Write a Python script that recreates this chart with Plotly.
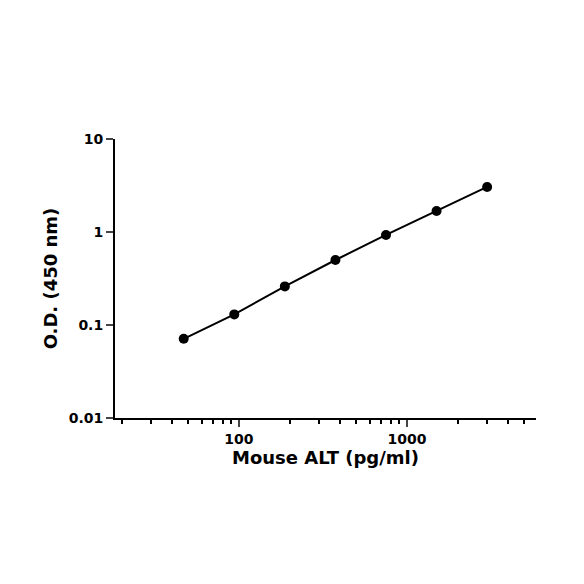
import plotly.graph_objects as go

conc = [46.875, 93.75, 187.5, 375, 750, 1500, 3000]
od = [0.071, 0.13, 0.26, 0.50, 0.93, 1.68, 3.05]

fig = go.Figure(go.Scatter(x=conc, y=od, mode="lines+markers",
    line=dict(color="black", width=2), marker=dict(color="black", size=10)))
font = "DejaVu Sans"
fig.update_layout(width=584, height=584, paper_bgcolor="white", plot_bgcolor="white",
    margin=dict(l=107, r=56, t=131, b=174), showlegend=False,
    font=dict(family=font, color="black"))
fig.update_xaxes(type="log", range=[1.262, 3.768], showgrid=False, zeroline=False, automargin=False,
    showline=True, linecolor="black", linewidth=2, ticks="outside", ticklen=7, tickwidth=2,
    tickvals=[100, 1000], ticktext=["<b>100</b>", "<b>1000</b>"], tickfont=dict(size=14, family=font),
    minor=dict(ticks="outside", ticklen=4, tickwidth=1.5, tickcolor="black",
               tickvals=[20,30,40,50,60,70,80,90,200,300,400,500,600,700,800,900,2000,3000,4000,5000]),
    title=dict(text="<b>Mouse ALT (pg/ml)</b>", font=dict(size=18), standoff=6))
fig.update_yaxes(type="log", range=[-2, 1], showgrid=False, zeroline=False, automargin=False,
    showline=True, linecolor="black", linewidth=2, ticks="outside", ticklen=7, tickwidth=2,
    tickvals=[0.01, 0.1, 1, 10], ticktext=["<b>0.01</b>", "<b>0.1</b>", "<b>1</b>", "<b>10</b>"],
    tickfont=dict(size=14, family=font),
    title=dict(text="<b>O.D. (450 nm)</b>", font=dict(size=18), standoff=6))
fig.write_html("out.html")
